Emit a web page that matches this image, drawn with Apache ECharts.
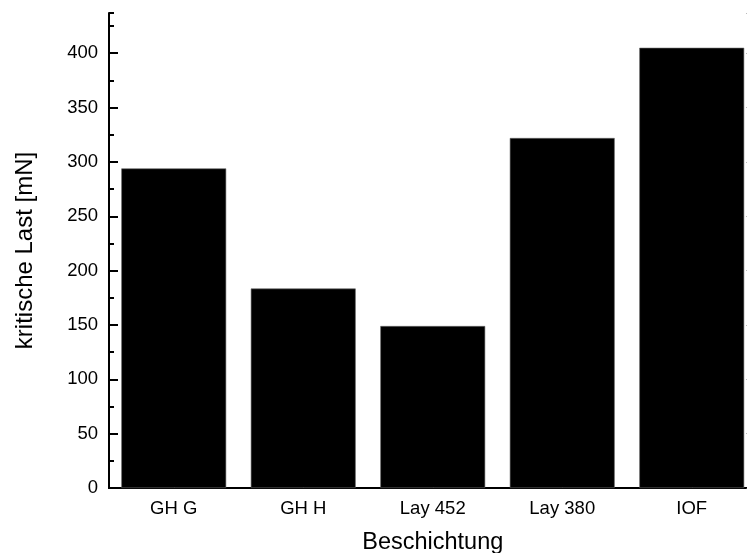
<!DOCTYPE html>
<html>
<head>
<meta charset="utf-8">
<script src="https://cdn.jsdelivr.net/npm/echarts@6/dist/echarts.min.js"></script>
<style>
html,body{margin:0;padding:0;background:#fff;}
#chart{width:747px;height:553px;}
</style>
</head>
<body>
<div id="chart"></div>
<script>
var categories = ['GH G', 'GH H', 'Lay 452', 'Lay 380', 'IOF'];
var values = [294, 183.5, 149, 322, 405];
var yTitle = 'kritische Last [mN]';
var xTitle = 'Beschichtung';
var yMin = 0, yMax = 437, yInterval = 50, yMinorInterval = 25;

var FONT = '"Liberation Sans", Arial, sans-serif';
var chart = echarts.init(document.getElementById('chart'), null, {renderer: 'canvas'});
var line = {show: true, lineStyle: {color: '#000', width: 2}};
chart.setOption({
  animation: false,
  backgroundColor: '#fff',
  grid: {left: 109, top: 13, right: -9.5, bottom: 65, containLabel: false, outerBoundsMode: 'none'},
  xAxis: [{
    type: 'category', data: categories, position: 'bottom',
    axisLine: line,
    axisTick: {show: false},
    axisLabel: {color: '#000', fontFamily: FONT, fontSize: 18.5, margin: 11},
    name: xTitle, nameLocation: 'middle', nameGap: 43,
    nameTextStyle: {color: '#000', fontFamily: FONT, fontSize: 23.5}
  }, {
    type: 'category', data: categories, position: 'top',
    axisLine: line,
    axisTick: {show: true, alignWithLabel: true, inside: false, length: 2, lineStyle: {color: '#555', width: 1}},
    axisLabel: {show: false}
  }],
  yAxis: [{
    type: 'value', min: yMin, max: yMax, interval: yInterval, position: 'left',
    axisLine: line,
    axisTick: {show: true, inside: true, length: 9, lineStyle: {color: '#000', width: 2}},
    axisLabel: {color: '#000', fontFamily: FONT, fontSize: 18.5, margin: 11, showMaxLabel: false},
    splitLine: {show: false},
    name: yTitle, nameLocation: 'middle', nameGap: 72, nameRotate: 90,
    nameTextStyle: {color: '#000', fontFamily: FONT, fontSize: 24}
  }, {
    type: 'value', min: yMin, max: yMax, interval: yMinorInterval, position: 'left',
    axisLine: {show: false},
    axisTick: {show: true, inside: true, length: 5, lineStyle: {color: '#000', width: 2}},
    axisLabel: {show: false},
    splitLine: {show: false}
  }, {
    type: 'value', min: yMin, max: yMax, interval: yInterval, position: 'right',
    axisLine: line,
    axisTick: {show: true, inside: true, length: 10, lineStyle: {color: '#777', width: 1}},
    axisLabel: {show: false},
    splitLine: {show: false}
  }],
  series: [{
    type: 'bar', data: values, xAxisIndex: 0, yAxisIndex: 0,
    barWidth: '81%',
    itemStyle: {color: '#000', borderColor: '#666', borderWidth: 0.6}
  }]
});
</script>
</body>
</html>
